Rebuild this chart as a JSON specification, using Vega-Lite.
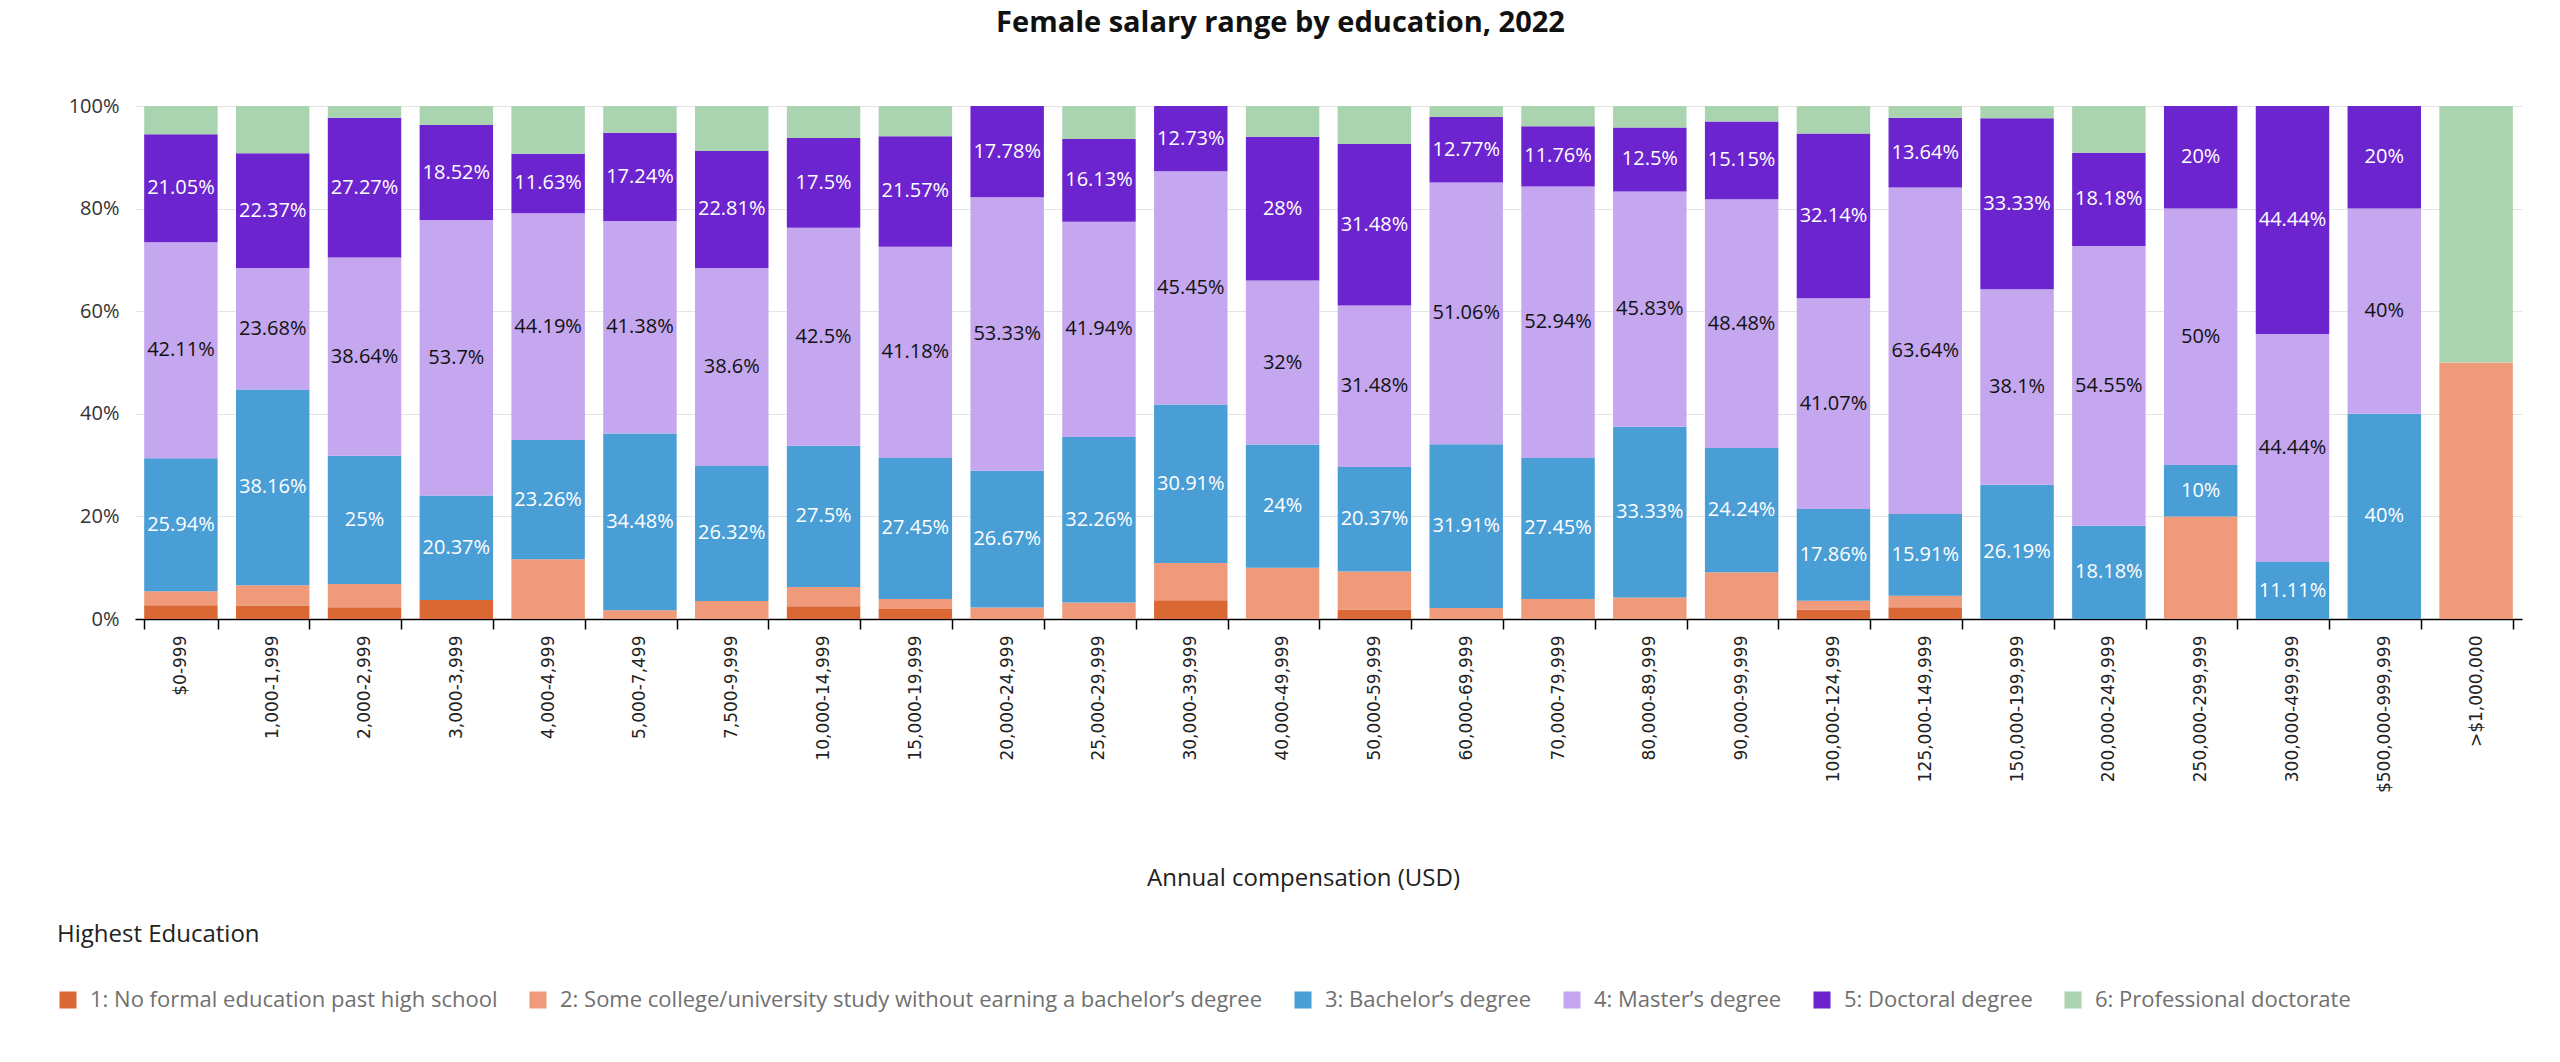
{
  "$schema": "https://vega.github.io/schema/vega-lite/v6.json",
  "description": "Female salary range by education, 2022 (share of respondents per compensation band).",
  "title": {
    "text": "Female salary range by education, 2022",
    "font": "Open Sans",
    "fontSize": 29,
    "fontWeight": "bold",
    "color": "#111111",
    "frame": "group",
    "anchor": "middle",
    "dx": -48,
    "offset": 58
  },
  "autosize": {"type": "none"},
  "padding": {"left": 135, "top": 106, "right": 38, "bottom": 443},
  "width": 2387,
  "height": 513,
  "background": "white",
  "data": {
    "values": [
      {"comp": "$0-999", "edu": "1: No formal education past high school", "pct": 0.027},
      {"comp": "$0-999", "edu": "2: Some college/university study without earning a bachelor’s degree", "pct": 0.027},
      {"comp": "$0-999", "edu": "3: Bachelor’s degree", "pct": 0.2594},
      {"comp": "$0-999", "edu": "4: Master’s degree", "pct": 0.4211},
      {"comp": "$0-999", "edu": "5: Doctoral degree", "pct": 0.2105},
      {"comp": "$0-999", "edu": "6: Professional doctorate", "pct": 0.055},

      {"comp": "1,000-1,999", "edu": "1: No formal education past high school", "pct": 0.0263},
      {"comp": "1,000-1,999", "edu": "2: Some college/university study without earning a bachelor’s degree", "pct": 0.0395},
      {"comp": "1,000-1,999", "edu": "3: Bachelor’s degree", "pct": 0.3816},
      {"comp": "1,000-1,999", "edu": "4: Master’s degree", "pct": 0.2368},
      {"comp": "1,000-1,999", "edu": "5: Doctoral degree", "pct": 0.2237},
      {"comp": "1,000-1,999", "edu": "6: Professional doctorate", "pct": 0.0921},

      {"comp": "2,000-2,999", "edu": "1: No formal education past high school", "pct": 0.0227},
      {"comp": "2,000-2,999", "edu": "2: Some college/university study without earning a bachelor’s degree", "pct": 0.0455},
      {"comp": "2,000-2,999", "edu": "3: Bachelor’s degree", "pct": 0.25},
      {"comp": "2,000-2,999", "edu": "4: Master’s degree", "pct": 0.3864},
      {"comp": "2,000-2,999", "edu": "5: Doctoral degree", "pct": 0.2727},
      {"comp": "2,000-2,999", "edu": "6: Professional doctorate", "pct": 0.0227},

      {"comp": "3,000-3,999", "edu": "1: No formal education past high school", "pct": 0.037},
      {"comp": "3,000-3,999", "edu": "3: Bachelor’s degree", "pct": 0.2037},
      {"comp": "3,000-3,999", "edu": "4: Master’s degree", "pct": 0.537},
      {"comp": "3,000-3,999", "edu": "5: Doctoral degree", "pct": 0.1852},
      {"comp": "3,000-3,999", "edu": "6: Professional doctorate", "pct": 0.037},

      {"comp": "4,000-4,999", "edu": "2: Some college/university study without earning a bachelor’s degree", "pct": 0.1163},
      {"comp": "4,000-4,999", "edu": "3: Bachelor’s degree", "pct": 0.2326},
      {"comp": "4,000-4,999", "edu": "4: Master’s degree", "pct": 0.4419},
      {"comp": "4,000-4,999", "edu": "5: Doctoral degree", "pct": 0.1163},
      {"comp": "4,000-4,999", "edu": "6: Professional doctorate", "pct": 0.093},

      {"comp": "5,000-7,499", "edu": "2: Some college/university study without earning a bachelor’s degree", "pct": 0.017},
      {"comp": "5,000-7,499", "edu": "3: Bachelor’s degree", "pct": 0.3448},
      {"comp": "5,000-7,499", "edu": "4: Master’s degree", "pct": 0.4138},
      {"comp": "5,000-7,499", "edu": "5: Doctoral degree", "pct": 0.1724},
      {"comp": "5,000-7,499", "edu": "6: Professional doctorate", "pct": 0.052},

      {"comp": "7,500-9,999", "edu": "2: Some college/university study without earning a bachelor’s degree", "pct": 0.0351},
      {"comp": "7,500-9,999", "edu": "3: Bachelor’s degree", "pct": 0.2632},
      {"comp": "7,500-9,999", "edu": "4: Master’s degree", "pct": 0.386},
      {"comp": "7,500-9,999", "edu": "5: Doctoral degree", "pct": 0.2281},
      {"comp": "7,500-9,999", "edu": "6: Professional doctorate", "pct": 0.0877},

      {"comp": "10,000-14,999", "edu": "1: No formal education past high school", "pct": 0.025},
      {"comp": "10,000-14,999", "edu": "2: Some college/university study without earning a bachelor’s degree", "pct": 0.0375},
      {"comp": "10,000-14,999", "edu": "3: Bachelor’s degree", "pct": 0.275},
      {"comp": "10,000-14,999", "edu": "4: Master’s degree", "pct": 0.425},
      {"comp": "10,000-14,999", "edu": "5: Doctoral degree", "pct": 0.175},
      {"comp": "10,000-14,999", "edu": "6: Professional doctorate", "pct": 0.0625},

      {"comp": "15,000-19,999", "edu": "1: No formal education past high school", "pct": 0.0196},
      {"comp": "15,000-19,999", "edu": "2: Some college/university study without earning a bachelor’s degree", "pct": 0.0196},
      {"comp": "15,000-19,999", "edu": "3: Bachelor’s degree", "pct": 0.2745},
      {"comp": "15,000-19,999", "edu": "4: Master’s degree", "pct": 0.4118},
      {"comp": "15,000-19,999", "edu": "5: Doctoral degree", "pct": 0.2157},
      {"comp": "15,000-19,999", "edu": "6: Professional doctorate", "pct": 0.0588},

      {"comp": "20,000-24,999", "edu": "2: Some college/university study without earning a bachelor’s degree", "pct": 0.0222},
      {"comp": "20,000-24,999", "edu": "3: Bachelor’s degree", "pct": 0.2667},
      {"comp": "20,000-24,999", "edu": "4: Master’s degree", "pct": 0.5333},
      {"comp": "20,000-24,999", "edu": "5: Doctoral degree", "pct": 0.1778},

      {"comp": "25,000-29,999", "edu": "2: Some college/university study without earning a bachelor’s degree", "pct": 0.0323},
      {"comp": "25,000-29,999", "edu": "3: Bachelor’s degree", "pct": 0.3226},
      {"comp": "25,000-29,999", "edu": "4: Master’s degree", "pct": 0.4194},
      {"comp": "25,000-29,999", "edu": "5: Doctoral degree", "pct": 0.1613},
      {"comp": "25,000-29,999", "edu": "6: Professional doctorate", "pct": 0.0645},

      {"comp": "30,000-39,999", "edu": "1: No formal education past high school", "pct": 0.0364},
      {"comp": "30,000-39,999", "edu": "2: Some college/university study without earning a bachelor’s degree", "pct": 0.0727},
      {"comp": "30,000-39,999", "edu": "3: Bachelor’s degree", "pct": 0.3091},
      {"comp": "30,000-39,999", "edu": "4: Master’s degree", "pct": 0.4545},
      {"comp": "30,000-39,999", "edu": "5: Doctoral degree", "pct": 0.1273},

      {"comp": "40,000-49,999", "edu": "2: Some college/university study without earning a bachelor’s degree", "pct": 0.1},
      {"comp": "40,000-49,999", "edu": "3: Bachelor’s degree", "pct": 0.24},
      {"comp": "40,000-49,999", "edu": "4: Master’s degree", "pct": 0.32},
      {"comp": "40,000-49,999", "edu": "5: Doctoral degree", "pct": 0.28},
      {"comp": "40,000-49,999", "edu": "6: Professional doctorate", "pct": 0.06},

      {"comp": "50,000-59,999", "edu": "1: No formal education past high school", "pct": 0.0185},
      {"comp": "50,000-59,999", "edu": "2: Some college/university study without earning a bachelor’s degree", "pct": 0.0741},
      {"comp": "50,000-59,999", "edu": "3: Bachelor’s degree", "pct": 0.2037},
      {"comp": "50,000-59,999", "edu": "4: Master’s degree", "pct": 0.3148},
      {"comp": "50,000-59,999", "edu": "5: Doctoral degree", "pct": 0.3148},
      {"comp": "50,000-59,999", "edu": "6: Professional doctorate", "pct": 0.0741},

      {"comp": "60,000-69,999", "edu": "2: Some college/university study without earning a bachelor’s degree", "pct": 0.0213},
      {"comp": "60,000-69,999", "edu": "3: Bachelor’s degree", "pct": 0.3191},
      {"comp": "60,000-69,999", "edu": "4: Master’s degree", "pct": 0.5106},
      {"comp": "60,000-69,999", "edu": "5: Doctoral degree", "pct": 0.1277},
      {"comp": "60,000-69,999", "edu": "6: Professional doctorate", "pct": 0.0213},

      {"comp": "70,000-79,999", "edu": "2: Some college/university study without earning a bachelor’s degree", "pct": 0.0392},
      {"comp": "70,000-79,999", "edu": "3: Bachelor’s degree", "pct": 0.2745},
      {"comp": "70,000-79,999", "edu": "4: Master’s degree", "pct": 0.5294},
      {"comp": "70,000-79,999", "edu": "5: Doctoral degree", "pct": 0.1176},
      {"comp": "70,000-79,999", "edu": "6: Professional doctorate", "pct": 0.0392},

      {"comp": "80,000-89,999", "edu": "2: Some college/university study without earning a bachelor’s degree", "pct": 0.0417},
      {"comp": "80,000-89,999", "edu": "3: Bachelor’s degree", "pct": 0.3333},
      {"comp": "80,000-89,999", "edu": "4: Master’s degree", "pct": 0.4583},
      {"comp": "80,000-89,999", "edu": "5: Doctoral degree", "pct": 0.125},
      {"comp": "80,000-89,999", "edu": "6: Professional doctorate", "pct": 0.0417},

      {"comp": "90,000-99,999", "edu": "2: Some college/university study without earning a bachelor’s degree", "pct": 0.0909},
      {"comp": "90,000-99,999", "edu": "3: Bachelor’s degree", "pct": 0.2424},
      {"comp": "90,000-99,999", "edu": "4: Master’s degree", "pct": 0.4848},
      {"comp": "90,000-99,999", "edu": "5: Doctoral degree", "pct": 0.1515},
      {"comp": "90,000-99,999", "edu": "6: Professional doctorate", "pct": 0.0303},

      {"comp": "100,000-124,999", "edu": "1: No formal education past high school", "pct": 0.0179},
      {"comp": "100,000-124,999", "edu": "2: Some college/university study without earning a bachelor’s degree", "pct": 0.0179},
      {"comp": "100,000-124,999", "edu": "3: Bachelor’s degree", "pct": 0.1786},
      {"comp": "100,000-124,999", "edu": "4: Master’s degree", "pct": 0.4107},
      {"comp": "100,000-124,999", "edu": "5: Doctoral degree", "pct": 0.3214},
      {"comp": "100,000-124,999", "edu": "6: Professional doctorate", "pct": 0.0536},

      {"comp": "125,000-149,999", "edu": "1: No formal education past high school", "pct": 0.0227},
      {"comp": "125,000-149,999", "edu": "2: Some college/university study without earning a bachelor’s degree", "pct": 0.0227},
      {"comp": "125,000-149,999", "edu": "3: Bachelor’s degree", "pct": 0.1591},
      {"comp": "125,000-149,999", "edu": "4: Master’s degree", "pct": 0.6364},
      {"comp": "125,000-149,999", "edu": "5: Doctoral degree", "pct": 0.1364},
      {"comp": "125,000-149,999", "edu": "6: Professional doctorate", "pct": 0.0227},

      {"comp": "150,000-199,999", "edu": "3: Bachelor’s degree", "pct": 0.2619},
      {"comp": "150,000-199,999", "edu": "4: Master’s degree", "pct": 0.381},
      {"comp": "150,000-199,999", "edu": "5: Doctoral degree", "pct": 0.3333},
      {"comp": "150,000-199,999", "edu": "6: Professional doctorate", "pct": 0.0238},

      {"comp": "200,000-249,999", "edu": "3: Bachelor’s degree", "pct": 0.1818},
      {"comp": "200,000-249,999", "edu": "4: Master’s degree", "pct": 0.5455},
      {"comp": "200,000-249,999", "edu": "5: Doctoral degree", "pct": 0.1818},
      {"comp": "200,000-249,999", "edu": "6: Professional doctorate", "pct": 0.0909},

      {"comp": "250,000-299,999", "edu": "2: Some college/university study without earning a bachelor’s degree", "pct": 0.2},
      {"comp": "250,000-299,999", "edu": "3: Bachelor’s degree", "pct": 0.1},
      {"comp": "250,000-299,999", "edu": "4: Master’s degree", "pct": 0.5},
      {"comp": "250,000-299,999", "edu": "5: Doctoral degree", "pct": 0.2},

      {"comp": "300,000-499,999", "edu": "3: Bachelor’s degree", "pct": 0.1111},
      {"comp": "300,000-499,999", "edu": "4: Master’s degree", "pct": 0.4444},
      {"comp": "300,000-499,999", "edu": "5: Doctoral degree", "pct": 0.4444},

      {"comp": "$500,000-999,999", "edu": "3: Bachelor’s degree", "pct": 0.4},
      {"comp": "$500,000-999,999", "edu": "4: Master’s degree", "pct": 0.4},
      {"comp": "$500,000-999,999", "edu": "5: Doctoral degree", "pct": 0.2},

      {"comp": ">$1,000,000", "edu": "2: Some college/university study without earning a bachelor’s degree", "pct": 0.5},
      {"comp": ">$1,000,000", "edu": "6: Professional doctorate", "pct": 0.5}
    ]
  },
  "encoding": {
    "x": {
      "field": "comp",
      "type": "nominal",
      "sort": null,
      "scale": {"paddingInner": 0.2, "paddingOuter": 0.1},
      "axis": {
        "title": "Annual compensation (USD)",
        "titleFont": "Open Sans",
        "titleFontSize": 24,
        "titleFontWeight": "normal",
        "titleColor": "#222222",
        "titleX": 1168,
        "titleY": 259,
        "titleAlign": "center",
        "titleBaseline": "middle",
        "labelAngle": -90,
        "labelFont": "DejaVu Sans",
        "labelFontSize": 17,
        "labelColor": "#222222",
        "labelPadding": 6,
        "labelLimit": 400,
        "tickBand": "extent",
        "tickSize": 10,
        "tickColor": "#000000",
        "tickWidth": 1.5,
        "domainColor": "#000000",
        "domainWidth": 1.5,
        "grid": false
      }
    }
  },
  "layer": [
    {
      "mark": {"type": "bar"},
      "encoding": {
        "y": {
          "field": "pct",
          "type": "quantitative",
          "stack": "zero",
          "scale": {"domain": [0, 1], "nice": false},
          "axis": {
            "title": null,
            "values": [0, 0.2, 0.4, 0.6, 0.8, 1],
            "format": "~%",
            "labelFont": "Open Sans",
            "labelFontSize": 20,
            "labelColor": "#333333",
            "labelPadding": 16,
            "domain": false,
            "ticks": false,
            "grid": true,
            "gridColor": "#E4E4E4",
            "gridWidth": 1
          }
        },
        "color": {
          "field": "edu",
          "type": "nominal",
          "scale": {
            "domain": [
              "1: No formal education past high school",
              "2: Some college/university study without earning a bachelor’s degree",
              "3: Bachelor’s degree",
              "4: Master’s degree",
              "5: Doctoral degree",
              "6: Professional doctorate"
            ],
            "range": ["#DA6834", "#EF9A7A", "#4A9ED6", "#C4A7EE", "#6C24CE", "#AAD4B0"]
          },
          "legend": {
            "title": "Highest Education",
            "orient": "none",
            "legendX": -78,
            "legendY": 817,
            "direction": "horizontal",
            "columns": 6,
            "padding": 0,
            "titleAnchor": "start",
            "titleLimit": 800,
            "titleFont": "Open Sans",
            "titleFontSize": 24,
            "titleFontWeight": "normal",
            "titleColor": "#222222",
            "titlePadding": 42,
            "labelFont": "Open Sans",
            "labelFontSize": 22,
            "labelColor": "#707070",
            "labelLimit": 1000,
            "labelOffset": 11,
            "columnPadding": 29,
            "symbolType": "square",
            "symbolSize": 290,
            "symbolStrokeWidth": 0
          }
        },
        "order": {"field": "edu", "sort": "ascending"}
      }
    },
    {
      "mark": {"type": "text", "font": "Open Sans", "fontSize": 20, "baseline": "middle"},
      "encoding": {
        "y": {"field": "pct", "type": "quantitative", "stack": "zero", "bandPosition": 0.5},
        "text": {
          "condition": {
            "test": "indexof(['3', '4', '5'], substring(datum.edu, 0, 1)) >= 0",
            "field": "pct",
            "type": "quantitative",
            "format": ".2~%"
          },
          "value": ""
        },
        "color": {
          "field": "edu",
          "type": "nominal",
          "scale": {
            "domain": [
              "1: No formal education past high school",
              "2: Some college/university study without earning a bachelor’s degree",
              "3: Bachelor’s degree",
              "4: Master’s degree",
              "5: Doctoral degree",
              "6: Professional doctorate"
            ],
            "range": ["transparent", "transparent", "#FFFFFF", "#111111", "#FFFFFF", "transparent"]
          },
          "legend": null
        },
        "order": {"field": "edu", "sort": "ascending"}
      }
    }
  ],
  "resolve": {"scale": {"color": "independent"}},
  "config": {"view": {"stroke": null}}
}
